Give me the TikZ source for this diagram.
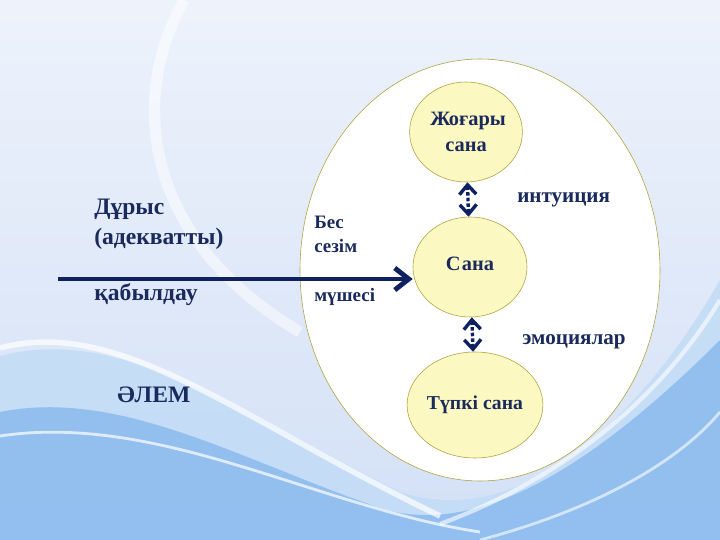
\documentclass[tikz,border=0pt]{standalone}
\usepackage{fontspec}
\setmainfont{Liberation Serif}
\usetikzlibrary{arrows.meta,positioning,shapes.geometric}
\definecolor{navyc}{HTML}{0F2161}
\definecolor{textc}{HTML}{1A2A5C}
\definecolor{circc}{HTML}{FCF8C2}
\definecolor{olivec}{HTML}{ABA23C}
\definecolor{skyc}{HTML}{D3E0F6}
\definecolor{wavec}{HTML}{4F97E6}
\tikzset{
  ar/.style={-{Straight Barb[length=3.5mm,width=5.5mm]},line width=3.5pt,navyc},
  dar/.style={{Straight Barb[length=2.4mm,width=4.2mm]}-{Straight Barb[length=2.4mm,width=4.2mm]},line width=2.4pt,navyc,dash pattern=on 2.5pt off 1.5pt},
  lvl/.style={ellipse,draw=olivec,fill=circc,inner sep=0pt,align=center,text=textc,font=\bfseries\fontsize{14.5}{18}\selectfont},
  lbl/.style={anchor=base west,inner sep=0pt,text=textc,font=\bfseries\fontsize{15}{18}\selectfont},
  big/.style={lbl,font=\bfseries\fontsize{16.8}{18}\selectfont},
  sml/.style={lbl,font=\bfseries\fontsize{13.5}{16}\selectfont}
}
\begin{document}
\begin{tikzpicture}
\useasboundingbox (0,0) rectangle (18,13.5);
\fill[top color=white!60!skyc,bottom color=skyc] (0,0) rectangle (18,13.5);
\draw[white,line width=8pt,opacity=.5] (4.6,13.5) .. controls (3.2,11) and (3.6,7.5) .. (7.5,5.2);
\fill[wavec!35,opacity=.8] (0,0) -- (0,4.6) .. controls (3,5.4) and (6,3.2) .. (10,1.2) .. controls (13,0.2) and (16,3) .. (18,6.5) -- (18,0) -- cycle;
\fill[wavec!80,opacity=.6] (0,0) -- (0,3.2) .. controls (3,3.8) and (6,2) .. (9.5,0.8) .. controls (12,0) and (15,2) .. (18,5) -- (18,0) -- cycle;
\draw[white,line width=4pt,opacity=.7] (0,4.8) .. controls (3,5.6) and (6,3) .. (11,0.6);
\draw[white,line width=2pt,opacity=.7] (0,2.6) .. controls (4,3.2) and (8,0.8) .. (12,0.2);
\draw[white,line width=3pt,opacity=.6] (11,0.4) .. controls (14,1.5) and (16.5,3.5) .. (18,6);
\draw[white,line width=2pt,opacity=.6] (12,0) .. controls (15,0.8) and (17,2) .. (18,3.2);

\node[ellipse,draw=olivec,fill=white,minimum width=9cm,minimum height=10.55cm] (world) at (12,6.75) {};
\node[lvl,minimum width=2.675cm,minimum height=2.5cm] (high) at (11.65,10.2) {\hspace*{3pt}Жоғары\\сана};
\node[lvl,minimum width=2.85cm,minimum height=2.5cm] (mind) at (11.75,6.825) {\raisebox{5pt}{С\kern1pt ана}};
\node[lvl,font=\bfseries\fontsize{14}{18}\selectfont,minimum width=2.825cm,minimum height=2.65cm] (deep) at (11.875,3.375) {Түпкі сана};
\draw[dar] (high) -- (mind);
\draw[dar] (mind) -- (deep);
\coordinate (src) at (1.45,6.525);
\draw[ar] (src) -- (src -| mind.west);

\node[big] (dur) at (2.35,8.125) {Дұрыс};
\node[big] (adek) at (2.35,7.375) {(адекватты)};
\node[big] (qab) at (2.35,5.975) {қабылдау};
\node[big] (alem) at (2.925,3.45) {ӘЛЕМ};
\node[sml] (bes) at (7.85,7.775) {Бес};
\node[sml] (sez) at (7.85,7.175) {сезім};
\node[sml] (mus) at (7.85,5.95) {мүшесі};
\node[lbl] (intu) at (12.925,8.425) {интуиция};
\node[lbl] (emo) at (13.05,4.875) {эмоциялар};
\end{tikzpicture}
\end{document}
